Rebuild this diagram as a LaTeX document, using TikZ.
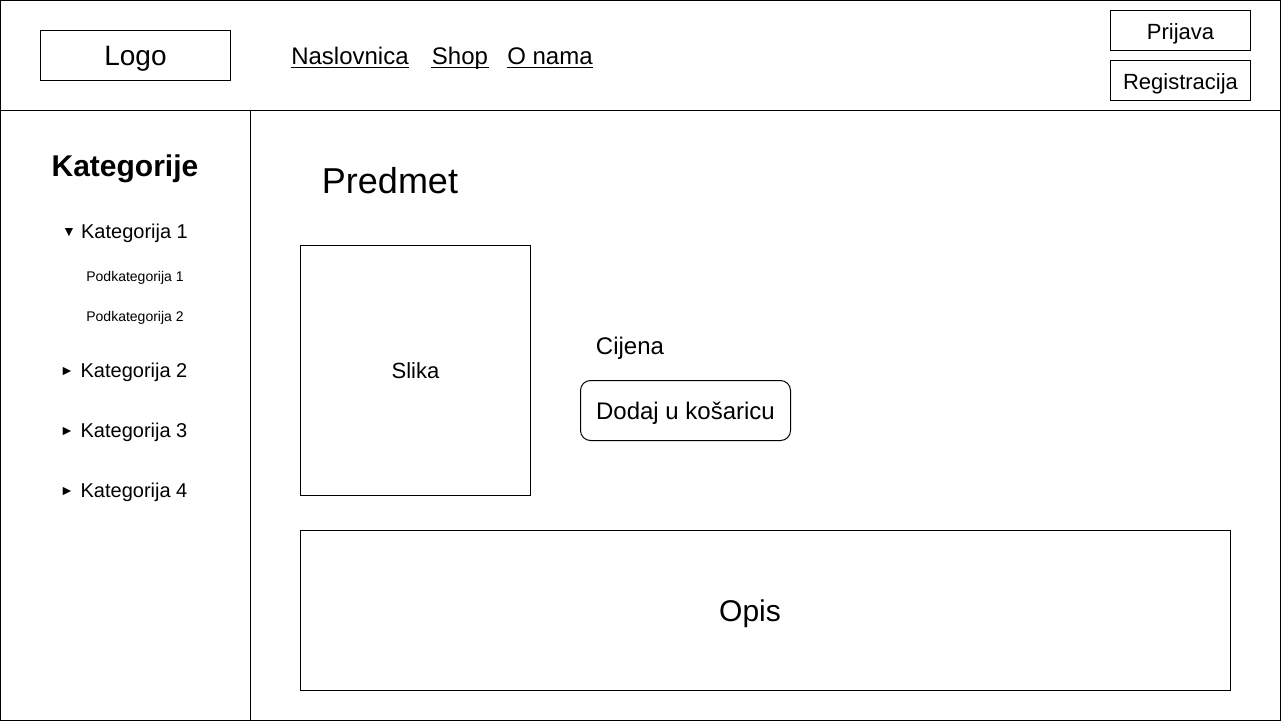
\documentclass[tikz,border=0pt]{standalone}
\usepackage{fontspec}
\setmainfont{Liberation Sans}
\usetikzlibrary{positioning}

\begin{document}
\begin{tikzpicture}[x=1pt,y=-1pt,line width=1pt,inner sep=0pt,
        box/.style={draw,line width=1pt},
        f14/.style={font=\fontsize{14}{17}\selectfont,text height=10pt,text depth=0pt},
        f20/.style={font=\fontsize{20}{24}\selectfont,text height=14.3pt,text depth=0pt},
        f22/.style={font=\fontsize{22}{26}\selectfont,text height=15.8pt,text depth=0pt},
        f24/.style={font=\fontsize{24}{29}\selectfont,text height=17.2pt,text depth=0pt},
        f28/.style={font=\fontsize{28}{34}\selectfont,text height=20pt,text depth=0pt},
        f30/.style={font=\fontsize{30}{36}\selectfont,text height=21.5pt,text depth=0pt},
        f36/.style={font=\fontsize{36}{43}\selectfont,text height=25.8pt,text depth=0pt},
        tri/.style={font=\fontsize{14}{17}\selectfont}]
        \useasboundingbox (0,0) rectangle (1281,721);
        \draw (0.5,0.5) rectangle (1280.5,720.5);
        \draw (0.5,110.5) -- (1280.5,110.5);
        \draw (250.5,110.5) -- (250.5,720.5);
        \node[box,f28,minimum width=190pt,minimum height=50pt] at (135.5,55.5) (4c1e9a07) {Logo};
        \node[f24] at (350,55.6) (9b2f6d31) {Naslovnica};
        \node[f24] at (460,55.6) (e07a4c58) {Shop};
        \node[f24] at (550,55.6) (2d8c1f96) {O nama};
        \node[box,f22,minimum width=140pt,minimum height=40pt,text height=17.5pt] at (1180.5,30.5) (71f3b0ac) {Prijava};
        \node[box,f22,minimum width=140pt,minimum height=40pt,text height=17.5pt] at (1180.5,80.5) (c5a92e14) {Registracija};
        \foreach \n in {9b2f6d31,e07a4c58,2d8c1f96}
            \draw[line width=1.5pt] ([yshift=-3.5pt]\n.base west) -- ([yshift=-3.5pt]\n.base east);
        \node[font=\fontsize{30}{36}\selectfont\bfseries,text height=21.5pt,text depth=0pt] at (125,166) (a81d47e2) {Kategorije};
        \node[tri] at (69,232.5) (3e6b9f05) {▼};
        \node[f20] at (134.5,231) (f4c20d7b) {Kategorija 1};
        \node[f14] at (135,276) (58e1a9c3) {Podkategorija 1};
        \node[f14] at (135,316) (0d97b2e6) {Podkategorija 2};
        \node[tri] at (67,371.5) (b6a4e813) {►};
        \node[f20] at (134,370) (6c3f15d9) {Kategorija 2};
        \node[tri] at (67,431.5) (d2e8705a) {►};
        \node[f20] at (134,430) (17b9c4ef) {Kategorija 3};
        \node[tri] at (67,491.5) (8f05d3b1) {►};
        \node[f20] at (134,490) (e93a6c20) {Kategorija 4};
        \node[f36] at (390,181) (2a7e51f8) {Predmet};
        \node[box,f22,minimum width=230pt,minimum height=250pt] at (415.5,370.5) (bc49d076) {Slika};
        \node[f24] at (630,346) (46d0e3a9) {Cijena};
        \node[box,f24,rounded corners=10pt,minimum width=210pt,minimum height=60pt] at (685.5,410.5) (f18b2c64) {Dodaj u košaricu};
        \node[box,minimum width=930pt,minimum height=160pt] at (765.5,610.5) (93c7e0a5) {};
        \node[f30] at (750,611) (5ad61f2b) {Opis};
    \end{tikzpicture}
\end{document}
